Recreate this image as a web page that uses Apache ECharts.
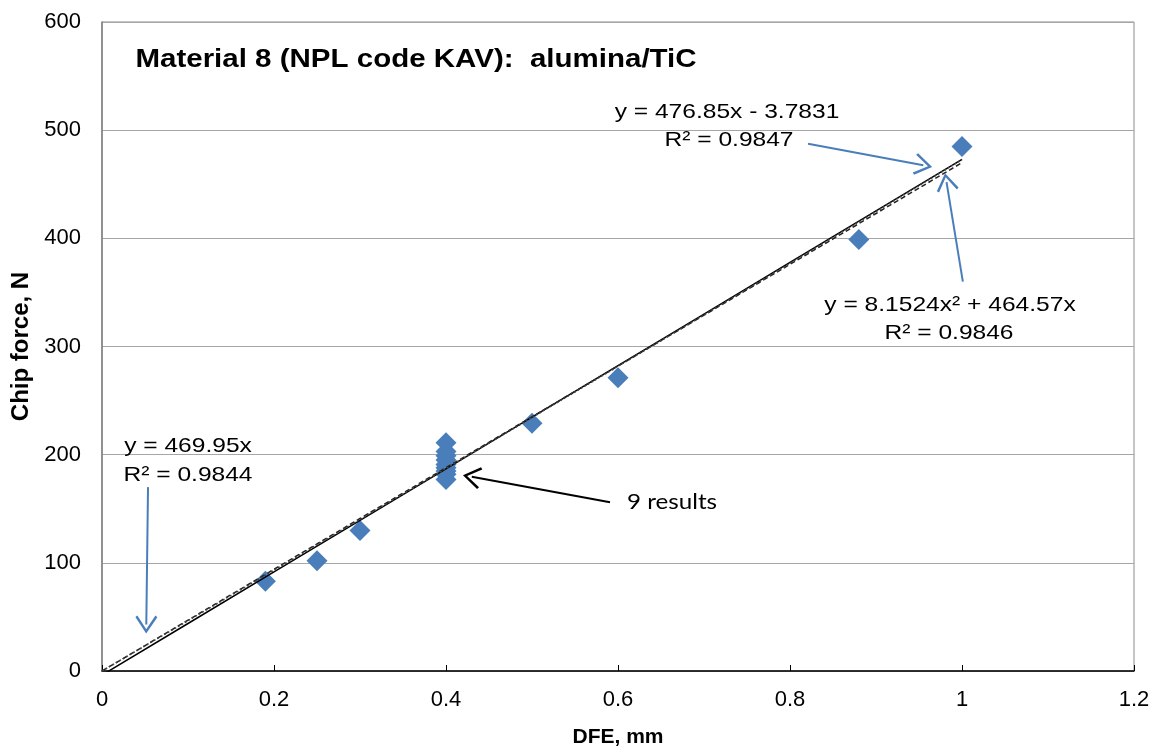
<!DOCTYPE html>
<html>
<head>
<meta charset="utf-8">
<script src="https://cdn.jsdelivr.net/npm/echarts@6/dist/echarts.min.js"></script>
<style>
  html, body { margin: 0; padding: 0; background: #fff; }
  #chart { width: 1156px; height: 751px; }
</style>
</head>
<body>
<div id="chart"></div>
<script>
// Chip force vs distance from edge (DFE) for alumina/TiC
const dfe = [0.19, 0.25, 0.3, 0.4, 0.4, 0.4, 0.4, 0.4, 0.4, 0.4, 0.4, 0.4, 0.5, 0.6, 0.88, 1.0];
const chipForce = [83, 102, 130, 211, 203, 199, 195, 191, 188, 185, 182, 177, 229, 271, 399, 485];

// Trendline coefficients as stated in the equation labels
const linearFit = { slope: 476.85, intercept: -3.7831 };
const originFit = { slope: 469.95 };
const polyFit = { a2: 8.1524, a1: 464.57 };
const trendX = [0, 0.1, 0.2, 0.3, 0.4, 0.5, 0.6, 0.7, 0.8, 0.9, 1.0];

const xTicks = [0, 0.2, 0.4, 0.6, 0.8, 1, 1.2];
const yTicks = [0, 100, 200, 300, 400, 500, 600];

const linearLine = trendX.map(x => [x, linearFit.slope * x + linearFit.intercept]);
const originLine = trendX.map(x => [x, originFit.slope * x]);
const polyLine = trendX.map(x => [x, polyFit.a2 * x * x + polyFit.a1 * x]);

// Callout arrows, in data coordinates [from, to]
const blueArrows = [
  [[0.821, 487.5], [0.955, 467.5]],
  [[1.001, 360], [0.982, 452]],
  [[0.0535, 170], [0.0515, 43]]
];
const blackArrows = [
  [[0.5907, 156], [0.43, 179.5]]
];

const chevron = 'path://M10,0 L20,14 L18.2,15.4 L10,3.6 L1.8,15.4 L0,14 Z';
const FONT = '"Liberation Sans", Arial, sans-serif';

const chart = echarts.init(document.getElementById('chart'), null, { renderer: 'canvas' });

function arrowData(list, color) {
  return list.map(([a, b]) => [
    { coord: a, lineStyle: { color: color } },
    { coord: b }
  ]);
}

function note(text, cx, cy, opts) {
  return Object.assign({
    type: 'text',
    x: cx,
    y: cy,
    scaleX: 1.17,
    z: 100,
    style: {
      text: text,
      font: '21px ' + FONT,
      fill: '#000',
      align: 'center',
      verticalAlign: 'middle'
    }
  }, opts || {});
}

chart.setOption({
  animation: false,
  backgroundColor: '#fff',
  grid: {
    left: 102, right: 22, top: 22, bottom: 80,
    outerBoundsMode: 'none',
    containLabel: false,
    show: true, borderColor: '#8c8c8c', borderWidth: 1
  },
  xAxis: {
    type: 'value',
    min: 0, max: 1.2, interval: 0.2,
    name: 'DFE, mm',
    nameLocation: 'middle',
    nameGap: 56,
    nameTextStyle: { fontFamily: FONT, fontSize: 21, fontWeight: 'bold', color: '#000' },
    axisLine: { show: true, lineStyle: { color: '#000', width: 1.5 } },
    axisTick: { show: true, inside: true, length: 6, lineStyle: { color: '#000' } },
    axisLabel: {
      fontFamily: FONT, fontSize: 22, color: '#000', margin: 18,
      formatter: v => {
        const t = xTicks.find(k => Math.abs(k - v) < 1e-9);
        return t === undefined ? '' : String(t);
      }
    },
    splitLine: { show: false }
  },
  yAxis: {
    type: 'value',
    min: 0, max: 600, interval: 100,
    name: 'Chip force, N',
    nameLocation: 'middle',
    nameGap: 68,
    nameTextStyle: { fontFamily: FONT, fontSize: 24, fontWeight: 'bold', color: '#000' },
    axisLine: { show: true, lineStyle: { color: '#7f7f7f', width: 1.5 } },
    axisTick: { show: false },
    axisLabel: {
      fontFamily: FONT, fontSize: 22, color: '#000', margin: 21,
      formatter: v => {
        const t = yTicks.find(k => k === v);
        return t === undefined ? '' : String(t);
      }
    },
    splitLine: { show: true, lineStyle: { color: '#a6a6a6', width: 1 } }
  },
  series: [
    {
      name: 'Chip force',
      type: 'scatter',
      data: dfe.map((x, i) => [x, chipForce[i]]),
      symbol: 'diamond',
      symbolSize: [21, 21],
      itemStyle: { color: '#4a7ebb', opacity: 1 },
      z: 2
    },
    {
      name: 'Linear',
      type: 'line',
      data: linearLine,
      showSymbol: false,
      clip: true,
      silent: true,
      lineStyle: { color: '#000', width: 1.5, type: 'solid' },
      z: 3
    },
    {
      name: 'Through origin',
      type: 'line',
      data: originLine,
      showSymbol: false,
      clip: true,
      silent: true,
      lineStyle: { color: '#222', width: 1.5, type: [5, 3] },
      z: 3
    },
    {
      name: 'Polynomial',
      type: 'line',
      data: polyLine,
      showSymbol: false,
      clip: true,
      silent: true,
      lineStyle: { color: '#444', width: 1.5, type: [2, 2] },
      z: 3
    },
    {
      name: 'Callouts',
      type: 'scatter',
      data: [],
      silent: true,
      markLine: {
        silent: true,
        animation: false,
        symbol: ['none', chevron],
        symbolSize: [22, 18],
        label: { show: false },
        lineStyle: { width: 2, type: 'solid' },
        data: arrowData(blueArrows, '#4a7ebb').concat(arrowData(blackArrows, '#000'))
      },
      z: 5
    }
  ],
  graphic: [
    note('Material 8 (NPL code KAV):  alumina/TiC', 416, 60, {
      scaleX: 1.18,
      style: { text: 'Material 8 (NPL code KAV):  alumina/TiC', font: 'bold 25px ' + FONT, fill: '#000', align: 'center', verticalAlign: 'middle' }
    }),
    note('y = 476.85x - 3.7831', 727, 112),
    note('R² = 0.9847', 729, 140),
    note('y = 8.1524x² + 464.57x', 950, 305),
    note('R² = 0.9846', 949, 333),
    note('y = 469.95x', 188, 446),
    note('R² = 0.9844', 188, 475),
    note('9 results', 672, 502, {
      scaleX: 1.1,
      style: { text: '9 results', font: '22px Lato, "Open Sans", sans-serif', fill: '#000', align: 'center', verticalAlign: 'middle' }
    })
  ]
});
</script>
</body>
</html>
